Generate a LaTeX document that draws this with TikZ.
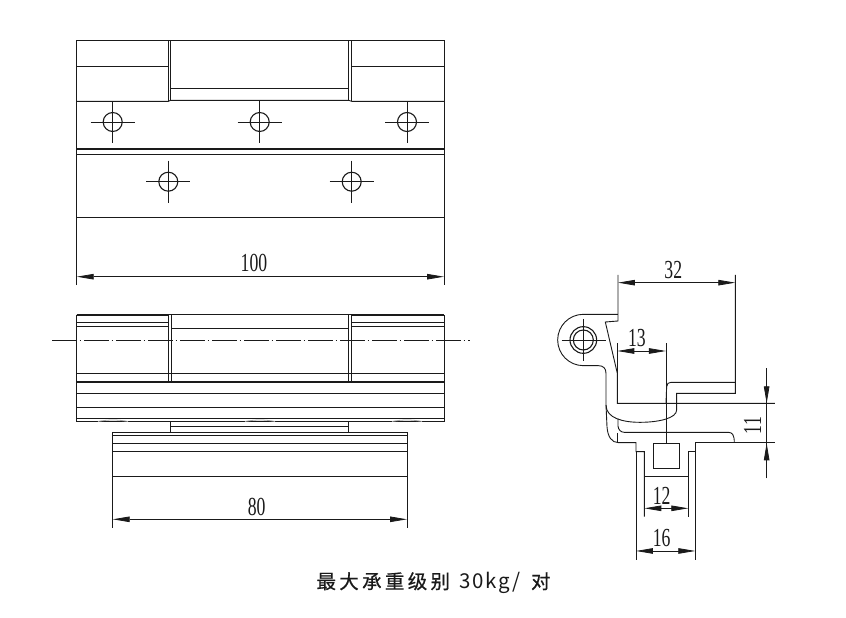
\documentclass[tikz,border=0pt]{standalone}
\usepackage{fontspec}
\usepackage{graphicx}
\usetikzlibrary{arrows.meta}
\setmainfont{Liberation Serif}
\newfontfamily\capfont[LetterSpace=9]{Noto Sans CJK SC}
\newfontfamily\capboldfont[LetterSpace=17,FakeBold=0.7]{Noto Sans CJK SC}
\definecolor{ink}{HTML}{1A1A1A}
\tikzset{
  ln/.style={draw=ink,line width=0.9pt},
  thick ln/.style={draw=ink,line width=1.9pt},
  cross/.style={draw=ink,line width=0.8pt},
  hole/.style={draw=ink,line width=1.1pt},
  dim/.style={draw=ink,line width=0.8pt,{Triangle[length=17pt,width=5.5pt]}-{Triangle[length=17pt,width=5.5pt]}},
  dimlabel/.style={inner sep=0pt,text=ink,font=\fontsize{26}{26}\selectfont},
  wave/.style={draw=gray!70,line width=0.8pt}
}
\newcommand{\narrow}[1]{\scalebox{0.68}[1]{#1}}
\newcommand{\holemark}[2]{%
  \draw[cross] (#1-22,#2)--(#1+22,#2) (#1,#2-21)--(#1,#2+21);
  \draw[hole] (#1,#2) circle (9.5);}
\begin{document}
\begin{tikzpicture}[x=1pt,y=-1pt]
\useasboundingbox (0,0) rectangle (846,618);
\fill[white] (0,0) rectangle (846,618);
% ---------- top view
\draw[ln] (76.7,285)--(76.7,40.3)--(444,40.3)--(444,285);
\draw[ln] (76.7,66)--(168.5,66) (351.7,66)--(444,66);
\draw[ln] (76.7,101.3)--(168.5,101.3)--(170.7,100.3)--(348.7,100.3)--(351.7,101.3)--(444,101.3);
\draw[ln] (168.5,40.3)--(168.5,101.3) (170.7,40.3)--(170.7,100.3);
\draw[ln] (348.7,40.3)--(348.7,100.3) (351.7,40.3)--(351.7,101.3);
\draw[ln] (170.7,88.7)--(348.7,88.7);
\draw[thick ln] (76.7,148.7)--(444,148.7);
\draw[ln] (76.7,154.3)--(444,154.3);
\draw[ln] (76.7,217.3)--(444,217.3);
\holemark{112.7}{122}
\holemark{259.7}{122}
\holemark{407}{122}
\holemark{168.3}{181.7}
\holemark{351.7}{181.7}
\draw[dim] (76.7,276.7)--(444,276.7);
\node[dimlabel] (d100) at (254,262.5) {\narrow{100}};
% ---------- front view
\draw[ln] (76.7,314.7)--(76.7,421.3)--(444,421.3)--(444,314.7);
\draw[thick ln] (76.7,314.7)--(168.7,314.7) (351.7,314.7)--(444,314.7);
\draw[ln] (168.7,314.7)--(351.7,314.7);
\draw[ln] (76.7,322.7)--(168.7,322.7) (76.7,326)--(168.7,326);
\draw[ln] (351.7,322.7)--(444,322.7) (351.7,326)--(444,326);
\draw[ln] (171,328.3)--(348.7,328.3);
\draw[ln] (168.7,314.7)--(168.7,381.7) (171,314.7)--(171,381.7);
\draw[ln] (348.7,314.7)--(348.7,381.7) (351.7,314.7)--(351.7,381.7);
\draw[ln] (76.7,373.3)--(444,373.3);
\draw[thick ln] (76.7,381.7)--(444,381.7);
\draw[ln] (76.7,393.3)--(444,393.3);
\draw[ln] (76.7,407.3)--(444,407.3);
\draw[ln] (76.7,418.7)--(444,418.7);
\draw[wave] (98,421.5) .. controls (108,419.5) and (118,419.5) .. (128,421.5);
\draw[wave] (245,421.5) .. controls (255,419.5) and (265,419.5) .. (275,421.5);
\draw[wave] (392,421.5) .. controls (402,419.5) and (412,419.5) .. (422,421.5);
\draw[draw=ink,line width=0.8pt,dash pattern=on 25pt off 2.7pt on 1.6pt off 2.7pt] (52,340.3)--(470,340.3);
\draw[ln] (170.7,421.3)--(170.7,432.3) (348.7,421.3)--(348.7,432.3);
\draw[ln] (170.7,426)--(348.7,426);
\draw[ln] (112.7,527.7)--(112.7,432.3)--(407,432.3)--(407,527.7);
\draw[ln] (112.7,435)--(407,435) (112.7,443.3)--(407,443.3);
\draw[ln] (112.7,451.7)--(407,451.7) (112.7,476.3)--(407,476.3);
\draw[dim] (112.7,519.3)--(407,519.3);
\node[dimlabel] (d80) at (256.7,507) {\narrow{80}};
% ---------- side view
\begin{scope}[shift={(545,250)},x=0.3333pt,y=-0.3333pt]
  \draw[ln] (219,75)--(219,213)--(181,216)--(217,370)--(217,460)--(690,460);
  \draw[ln] (571,75)--(571,430)--(395,430)--(395,480)
     .. controls (395,505) and (340,517) .. (285,517)
     .. controls (235,517) and (183,505) .. (183,465);
  \draw[ln] (219,193)--(115,193)
     .. controls (72.5,193) and (38,227.5) .. (38,270)
     .. controls (38,312.5) and (72.5,347) .. (115,347)
     --(160,347) .. controls (175,347) and (183,355) .. (183,370)--(183,465)
     --(186,530) .. controls (188,560) and (200,578) .. (220,578)--(273,578)--(273,605)
     --(298,605)--(298,800);
  \draw[ln] (273,605)--(273,930);
  \draw[ln] (363,280)--(363,580);
  \draw[ln] (363,460)--(365,410) .. controls (366,401) and (370,397) .. (378,397)--(571,397);
  \draw[ln] (219,505)--(219,528) .. controls (220,540) and (228,547) .. (238,547)--(550,547)
     .. controls (562,547) and (568,555) .. (568,578);
  \draw[ln] (218,550)--(218,578);
  \draw[ln] (451,930)--(451,578)--(690,578);
  \draw[ln] (451,605)--(430,605)--(430,800);
  \draw[ln] (298,680)--(430,680);
  \draw[ln] (325,580) rectangle (402,655);
  \draw[ln] (217,280)--(217,370);
  \draw[hole] (115,270) circle (40);
  \draw[hole] (115,270) circle (30);
  \draw[cross] (50,270)--(182,270) (115,207)--(115,333);
  \draw[cross] (665,355)--(665,685);
  \draw[draw=ink,line width=0.8pt,-{Triangle[length=17pt,width=5.5pt]}] (665,355)--(665,460);
  \draw[draw=ink,line width=0.8pt,-{Triangle[length=17pt,width=5.5pt]}] (665,685)--(665,580);
  \draw[dim] (219,98)--(571,98);
  \draw[dim] (217,303)--(363,303);
  \draw[dim] (298,775)--(430,775);
  \draw[dim] (273,903)--(451,903);
  \node[dimlabel] (d32) at (385,60) {\narrow{32}};
  \node[dimlabel] (d13) at (276,263) {\narrow{13}};
  \node[dimlabel,rotate=90] (d11) at (623,527) {\narrow{11}};
  \node[dimlabel] (d12) at (350,738) {\narrow{12}};
  \node[dimlabel] (d16) at (350,863) {\narrow{16}};
\end{scope}
% ---------- caption
\node[inner sep=0pt,text=ink] (cap) at (433.5,583) {\fontsize{19.5}{21}\selectfont\capboldfont 最大承重级别\hspace{9pt}\capfont\fontsize{20.5}{21}\selectfont 30kg/\hspace{10pt}\capboldfont\fontsize{19.5}{21}\selectfont 对};
\end{tikzpicture}
\end{document}
